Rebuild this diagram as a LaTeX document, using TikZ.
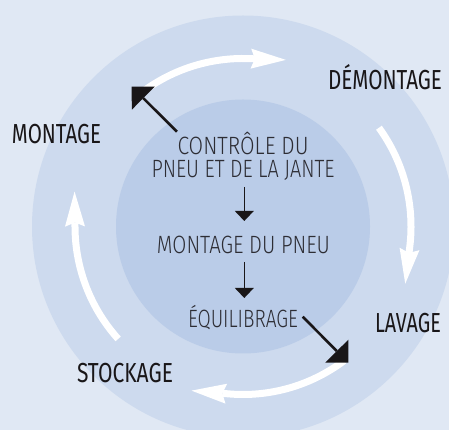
\documentclass[tikz,border=0pt]{standalone}
\usepackage{fontspec}
\usepackage{graphicx}
\newfontfamily\innerfont{Fira Sans Light}
\newfontfamily\outerfont{Fira Sans}
\usetikzlibrary{arrows.meta,calc}
\definecolor{bgc}{RGB}{224,232,244}
\definecolor{ringc}{RGB}{205,218,238}
\definecolor{corec}{RGB}{186,204,232}
\definecolor{txtin}{RGB}{45,45,52}
\definecolor{txtout}{RGB}{25,22,24}
\newcommand\fitw[2]{\resizebox{#1}{\height}{#2}}
\begin{document}
\begin{tikzpicture}[x=1pt,y=1pt,
  intext/.style={anchor=base,inner sep=0pt,font=\innerfont\fontsize{25}{23}\selectfont,text=txtin,align=center},
  outtext/.style={anchor=base,inner sep=0pt,font=\outerfont\fontsize{27.5}{27.5}\selectfont,text=txtout},
  whitearrow/.style={draw=white,line width=7pt,-{Stealth[length=35pt,width=20pt,inset=4pt,line width=0pt]}},
  blackarrow/.style={draw=txtout,line width=2.6pt,-{Triangle[length=16.3pt,width=32.6pt,line width=0pt]}},
  thinarrow/.style={draw=txtout,line width=1.6pt,-{Triangle[length=10pt,width=19pt,line width=0pt]}}]
\useasboundingbox (0,0) rectangle (449,430);
\clip (0,0) rectangle (449,430);
\fill[bgc] (0,0) rectangle (449,430);
\coordinate (cc) at (243,203.5);
\fill[ringc] (cc) circle[radius=211];
\fill[corec] (cc) circle[radius=127];
% white cycle arrows
\draw[whitearrow] ($(cc)+(128:168)$) arc[start angle=128,end angle=88,radius=168] -- ++(-2:37);
\draw[whitearrow] ($(cc)+(36:168)$) arc[start angle=36,end angle=-7,radius=168] -- ++(-97:37);
\draw[whitearrow] ($(cc)+(-53:168)$) arc[start angle=-53,end angle=-95,radius=168] -- ++(175:37);
\draw[whitearrow] ($(cc)+(222:168)$) arc[start angle=222,end angle=180.7,radius=168] -- ++(90.7:37);
% texts
\node[intext] (ctrl) at (243,252) {\fitw{131pt}{CONTRÔLE DU}\\\fitw{183pt}{PNEU ET DE LA JANTE}};
\node[intext] (mont) at (243.5,176.7) {\fitw{173pt}{MONTAGE DU PNEU}};
\node[intext] (equi) at (243,102) {\fitw{110pt}{ÉQUILIBRAGE}};
\node[outtext] (dem) at (385,340.7) {\fitw{114pt}{DÉMONTAGE}};
\node[outtext] (mtg) at (56.5,286.7) {\fitw{89pt}{MONTAGE}};
\node[outtext] (lav) at (408,97.3) {\fitw{66pt}{LAVAGE}};
\node[outtext] (stk) at (125,47) {\fitw{96pt}{STOCKAGE}};
% inner arrows
\coordinate (a1s) at (244.3,243);
\coordinate (a1e) at (244.3,209);
\coordinate (a2s) at (244.3,168);
\coordinate (a2e) at (244.3,132);
\draw[thinarrow] (a1s) -- (a1e);
\draw[thinarrow] (a2s) -- (a2e);
% black arrows
\coordinate (b1s) at (177,298.3);
\coordinate (b1e) at (131.7,343.3);
\coordinate (b2s) at (302.7,113.3);
\coordinate (b2e) at (348.3,67.3);
\draw[blackarrow] (b1s) -- (b1e);
\draw[blackarrow] (b2s) -- (b2e);
\end{tikzpicture}
\end{document}
